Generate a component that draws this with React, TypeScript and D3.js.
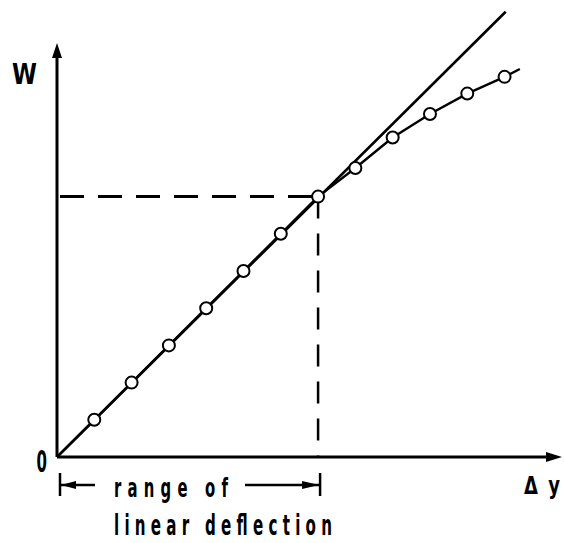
import React from "react";
import * as d3 from "d3";

// ---- data ----
const linearX = [1, 2, 3, 4, 5, 6, 7];
const linearW = [1, 2, 3, 4, 5, 6, 7];
const curveX = [7, 8, 9, 10, 11, 12, 12.41];
const curveW = [7, 7.77, 8.59, 9.22, 9.77, 10.22, 10.43];
const markerX = [1, 2, 3, 4, 5, 6, 7, 8, 9, 10, 11, 12];
const markerW = [1, 2, 3, 4, 5, 6, 7, 7.77, 8.59, 9.22, 9.77, 10.22];
const straightLine = [
  [0, 0],
  [12.03, 11.97],
];
const linearLimit = 7; // end of linear range (x and W)
const axisLabels = { y: "W", x: "Δy", origin: "0" };
const rangeLabel = ["range of", "linear deflection"];

const W = 564;
const H = 543;
const FONT = "'DejaVu Sans', sans-serif";

function NarrowText({
  x,
  y,
  size,
  sx,
  length,
  children,
}: {
  x: number;
  y: number;
  size: number;
  sx: number;
  length?: number;
  children: React.ReactNode;
}) {
  return (
    <text
      transform={`translate(${x},${y}) scale(${sx},1)`}
      fontFamily={FONT}
      fontWeight="bold"
      fontSize={size}
      fill="#000"
      textLength={length ? length / sx : undefined}
      lengthAdjust={length ? "spacing" : undefined}
    >
      {children}
    </text>
  );
}

export default function App() {
  const x = d3.scaleLinear().domain([0, 13.54]).range([57, 562]);
  const y = d3.scaleLinear().domain([0, 11.13]).range([457, 43]);

  const line = d3
    .line<number[]>()
    .x((d) => x(d[0]))
    .y((d) => y(d[1]));

  const curvePts = curveX.map((v, i) => [v, curveW[i]]);
  const linPts = [[0, 0], ...linearX.map((v, i) => [v, linearW[i]])];

  const x0 = x(0);
  const y0 = y(0);
  const xL = x(linearLimit);
  const yL = y(linearLimit);
  const annY = 485;
  const yTop = y.range()[1];
  const xEnd = x.range()[1];

  return (
    <svg
      width={W}
      height={H}
      style={{ position: "absolute", left: 0, top: 0, background: "#fff" }}
    >
      <rect width={W} height={H} fill="#fff" />
      {/* axes */}
      <line x1={x0} y1={y0} x2={x0} y2={yTop + 12} stroke="#000" strokeWidth={3} />
      <path d={`M${x0 - 5},${yTop + 15} L${x0},${yTop} L${x0 + 5},${yTop + 15} Z`} fill="#000" />
      <line x1={x0} y1={y0} x2={xEnd - 12} y2={y0} stroke="#000" strokeWidth={3} />
      <path d={`M${xEnd - 16},${y0 - 5} L${xEnd},${y0} L${xEnd - 16},${y0 + 5} Z`} fill="#000" />

      {/* dashed guides */}
      <line x1={x0 + 3} y1={yL} x2={xL} y2={yL} stroke="#000" strokeWidth={3} strokeDasharray="24 14" />
      <line x1={xL} y1={yL} x2={xL} y2={y0} stroke="#000" strokeWidth={2.5} strokeDasharray="22 15" />

      {/* straight theoretical line */}
      <path d={line(straightLine) || ""} fill="none" stroke="#000" strokeWidth={2.6} />
      {/* measured curve */}
      <path d={line(linPts) || ""} fill="none" stroke="#000" strokeWidth={2.4} />
      <path d={line(curvePts) || ""} fill="none" stroke="#000" strokeWidth={2.4} />

      {/* markers */}
      {markerX.map((v, i) => (
        <circle key={i} cx={x(v)} cy={y(markerW[i])} r={6} fill="#fff" stroke="#000" strokeWidth={2} />
      ))}

      {/* labels */}
      <NarrowText x={12} y={84} size={29} sx={0.78}>
        {axisLabels.y}
      </NarrowText>
      <NarrowText x={36.5} y={472} size={30} sx={0.5}>
        {axisLabels.origin}
      </NarrowText>
      <NarrowText x={524} y={494} size={24} sx={0.75} length={36}>
        {axisLabels.x}
      </NarrowText>

      {/* range annotation */}
      <line x1={x0 + 3} y1={annY - 12} x2={x0 + 3} y2={annY + 11} stroke="#000" strokeWidth={2.5} />
      <line x1={xL + 2} y1={annY - 12} x2={xL + 2} y2={annY + 11} stroke="#000" strokeWidth={2.5} />
      <line x1={x0 + 3} y1={annY} x2={95} y2={annY} stroke="#000" strokeWidth={2.5} />
      <path d={`M${x0 + 4},${annY} L${x0 + 19},${annY - 4} L${x0 + 19},${annY + 4} Z`} fill="#000" />
      <line x1={245} y1={annY} x2={xL + 2} y2={annY} stroke="#000" strokeWidth={2.5} />
      <path d={`M${xL + 1},${annY} L${xL - 16},${annY - 4} L${xL - 16},${annY + 4} Z`} fill="#000" />

      <NarrowText x={114} y={497} size={27} sx={0.55} length={114}>
        {rangeLabel[0]}
      </NarrowText>
      <NarrowText x={114} y={535} size={28} sx={0.54} length={218}>
        {rangeLabel[1]}
      </NarrowText>
    </svg>
  );
}
